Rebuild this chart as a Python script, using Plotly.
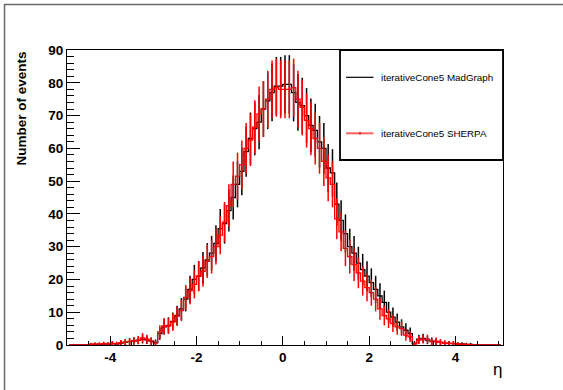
import numpy as np
import plotly.graph_objects as go

# Binning of the eta histograms: 101 bins of width 0.1 from -5.0 to 5.1
bin_lo = -5.0
bin_width = 0.1
n_bins = 101
eta_centers = [round(bin_lo + bin_width * (i + 0.5), 2) for i in range(n_bins)]

# Jet eta distribution, iterativeCone5, MadGraph sample (events per bin)
madgraph_counts = [
    0.0, 0.0, 0.0, 0.0, 0.0, 0.2, 0.2, 0.0, 0.3, 0.3,          # -4.95 .. -4.05
    0.4, 0.3, 0.6, 0.8, 1.0, 1.2, 1.4, 1.8, 1.6, 1.2,          # -3.95 .. -3.05
    0.8, 3.5, 5.5, 6.0, 7.2, 9.0, 11.0, 14.0, 17.0, 20.0,      # -2.95 .. -2.05
    21.0, 23.5, 26.0, 28.0, 31.0, 35.5, 37.0, 41.0, 45.0, 49.0,  # -1.95 .. -1.05
    53.0, 59.0, 63.0, 66.0, 68.0, 72.0, 74.5, 77.0, 79.0, 79.0,  # -0.95 .. -0.05
    79.5, 79.5, 77.0, 74.0, 73.0, 70.0, 67.0, 65.5, 62.0, 60.0,  # 0.05 .. 0.95
    54.0, 52.5, 43.0, 38.0, 34.0, 30.0, 28.0, 25.0, 23.0, 21.0,  # 1.05 .. 1.95
    19.0, 17.0, 15.0, 13.0, 10.0, 8.5, 7.0, 5.5, 4.5, 3.5,     # 2.05 .. 2.95
    0.5, 1.8, 2.0, 1.5, 1.2, 1.0, 0.8, 0.6, 0.5, 0.4,          # 3.05 .. 3.95
    0.3, 0.3, 0.2, 0.2, 0.0, 0.0, 0.0, 0.0, 0.0, 0.0,          # 4.05 .. 4.95
    0.0,                                                       # 5.05
]

# Jet eta distribution, iterativeCone5, SHERPA sample (events per bin)
sherpa_counts = [
    0.0, 0.0, 0.0, 0.0, 0.0, 0.2, 0.3, 0.3, 0.4, 0.3,          # -4.95 .. -4.05
    0.5, 0.4, 0.7, 0.9, 1.1, 1.3, 1.5, 2.2, 1.8, 1.2,          # -3.95 .. -3.05
    0.6, 4.0, 5.8, 5.8, 7.0, 8.8, 10.5, 14.5, 16.5, 18.5,      # -2.95 .. -2.05
    21.0, 22.5, 25.5, 27.0, 30.0, 33.5, 37.5, 42.5, 49.0, 51.5,  # -1.95 .. -1.05
    55.0, 60.0, 62.5, 66.5, 70.5, 72.0, 75.0, 78.0, 78.5, 78.0,  # -0.95 .. -0.05
    78.0, 78.0, 78.5, 75.0, 72.5, 68.5, 66.0, 63.0, 60.0, 56.0,  # 0.05 .. 0.95
    51.0, 49.0, 38.5, 34.5, 29.5, 27.0, 24.5, 22.0, 19.5, 17.5,  # 1.05 .. 1.95
    16.0, 14.0, 11.0, 9.0, 8.0, 6.5, 5.5, 5.0, 3.0, 2.5,       # 2.05 .. 2.95
    0.3, 1.5, 1.8, 1.8, 1.0, 1.2, 0.8, 0.6, 0.5, 0.5,          # 3.05 .. 3.95
    0.3, 0.2, 0.2, 0.1, 0.0, 0.0, 0.0, 0.0, 0.0, 0.0,          # 4.05 .. 4.95
    0.0,                                                       # 5.05
]

series_names = ["iterativeCone5 MadGraph", "iterativeCone5 SHERPA"]
series_colors = ["#000000", "#ff0000"]

y_ticks = [0, 10, 20, 30, 40, 50, 60, 70, 80, 90]
x_ticks = [-4, -2, 0, 2, 4]

W, H = 563, 390
ML, MR, MT, MB = 67, 60, 50, 45
PW, PH = W - ML - MR, H - MT - MB


def px(x):
    """Canvas pixel column -> paper x."""
    return (x - ML) / PW


def py(y):
    """Canvas pixel row -> paper y."""
    return (H - MB - y) / PH


fig = go.Figure()

# Step histograms with Poisson error bars at the bin centres
for counts, name, color in zip([madgraph_counts, sherpa_counts], series_names, series_colors):
    counts = np.asarray(counts, dtype=float)
    fig.add_trace(go.Scatter(
        x=eta_centers,
        y=counts,
        name=name,
        mode="lines",
        line=dict(color=color, width=1.3, shape="hvh"),
        error_y=dict(type="data", array=np.sqrt(counts), visible=True,
                     color=color, thickness=1.5, width=0),
        showlegend=False,
        hoverinfo="x+y+name",
    ))

font_family = "Liberation Sans, Arial, Helvetica, sans-serif"

fig.update_layout(
    width=W, height=H,
    margin=dict(l=ML, r=MR, t=MT, b=MB),
    paper_bgcolor="white",
    plot_bgcolor="white",
    font=dict(family=font_family, color="black"),
    xaxis=dict(
        range=[bin_lo, bin_lo + n_bins * bin_width],
        tickmode="array", tickvals=x_ticks,
        ticktext=[str(v) for v in x_ticks],
        ticks="inside", ticklen=9, tickwidth=1, tickcolor="black",
        minor=dict(ticks="inside", dtick=0.5, tick0=0, ticklen=4.5,
                   tickwidth=1, tickcolor="black"),
        tickfont=dict(size=13.5, weight="bold", family=font_family),
        ticklabelstandoff=0,
        showline=True, linecolor="black", linewidth=1, mirror=True,
        showgrid=False, zeroline=False,
    ),
    yaxis=dict(
        range=[0, 90],
        tickmode="array", tickvals=y_ticks,
        ticktext=[str(v) for v in y_ticks],
        ticks="inside", ticklen=13, tickwidth=1, tickcolor="black",
        minor=dict(ticks="inside", dtick=2, tick0=0, ticklen=6.5,
                   tickwidth=1, tickcolor="black"),
        tickfont=dict(size=13.5, weight="bold", family=font_family),
        ticklabelstandoff=0,
        showline=True, linecolor="black", linewidth=1, mirror=True,
        showgrid=False, zeroline=False,
    ),
)

shapes = []
annotations = []

# Canvas bevel along the top and left edges
shapes.append(dict(type="line", xref="paper", yref="paper",
                   x0=px(4), x1=px(W), y0=py(4.5), y1=py(4.5),
                   line=dict(color="#6a6a6a", width=1.5)))
shapes.append(dict(type="line", xref="paper", yref="paper",
                   x0=px(4.5), x1=px(4.5), y0=py(4), y1=py(H),
                   line=dict(color="#6a6a6a", width=1.5)))

# Legend box
shapes.append(dict(type="rect", xref="paper", yref="paper",
                   x0=px(340), x1=px(503), y0=py(160), y1=py(50),
                   line=dict(color="black", width=1.8), fillcolor="white", layer="above"))

legend_rows = [77.3, 133.3]
for row, name, color in zip(legend_rows, series_names, series_colors):
    is_red = color != "#000000"
    shapes.append(dict(type="line", xref="paper", yref="paper",
                       x0=px(346), x1=px(373.5), y0=py(row), y1=py(row),
                       line=dict(color="#ff6060" if is_red else color,
                                 width=2 if is_red else 1.2),
                       layer="above"))
    if is_red:
        shapes.append(dict(type="line", xref="paper", yref="paper",
                           x0=px(360), x1=px(360), y0=py(row - 1.5), y1=py(row + 1.5),
                           line=dict(color="#b00000", width=1), layer="above"))
    annotations.append(dict(text=name, xref="paper", yref="paper",
                            x=px(378.5), y=py(row), xanchor="left", yanchor="middle",
                            showarrow=False,
                            font=dict(size=9.8, family=font_family, color="black")))

# Axis titles
annotations.append(dict(text="Number of events", xref="paper", yref="paper",
                        x=px(20.5), y=1.0, xanchor="center", yanchor="top",
                        textangle=-90, showarrow=False,
                        font=dict(size=13.5, weight="bold", family=font_family)))
annotations.append(dict(text="η", xref="paper", yref="paper",
                        x=px(497), y=py(369), xanchor="center", yanchor="middle",
                        showarrow=False,
                        font=dict(size=17, family=font_family)))

fig.update_layout(shapes=shapes, annotations=annotations)

fig.write_html("out.html")
